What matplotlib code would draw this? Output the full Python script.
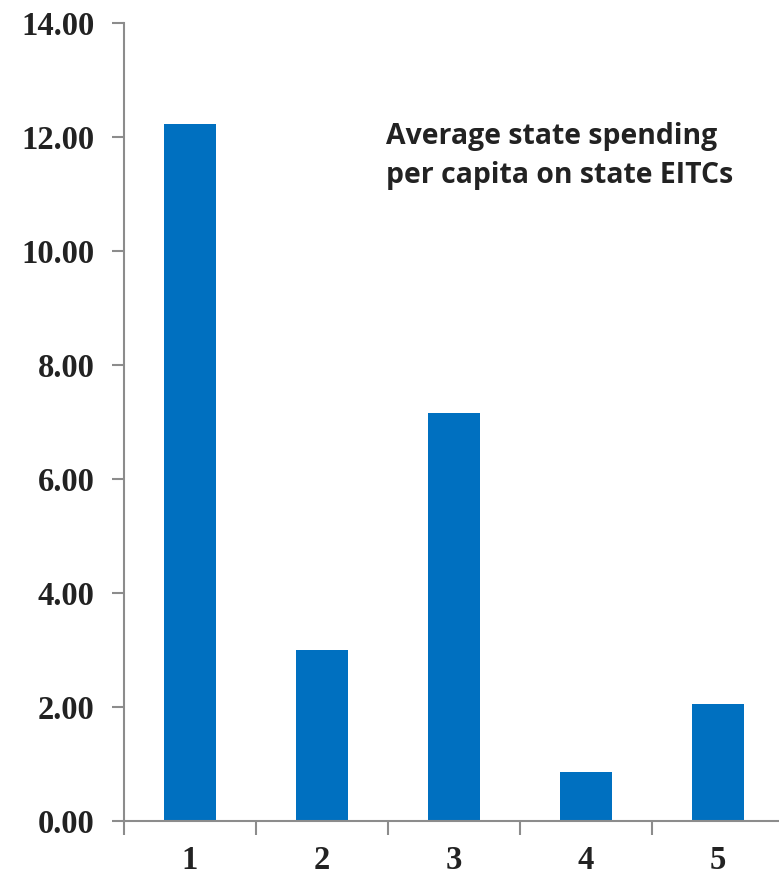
import matplotlib
matplotlib.use("Agg")
import matplotlib.pyplot as plt

categories = ["1", "2", "3", "4", "5"]
values = [12.22, 3.00, 7.15, 0.86, 2.05]
yticks = [0, 2, 4, 6, 8, 10, 12, 14]
ytick_labels = ["0.00", "2.00", "4.00", "6.00", "8.00", "10.00", "12.00", "14.00"]
annotation = "Average state spending\nper capita on state EITCs"

fig = plt.figure(figsize=(7.79, 8.81), dpi=100)
W, H = 779, 881
left, right = 124 / W, 784 / W
bottom, top = (H - 821) / H, (H - 23) / H
ax = fig.add_axes([left, bottom, right - left, top - bottom])

x = list(range(1, len(categories) + 1))
ax.bar(x, values, width=0.4, color="#0070C0", zorder=2)

ax.set_xlim(0.5, 5.5)
ax.set_ylim(0, 14)
ax.set_yticks(yticks)
ax.set_yticklabels(ytick_labels)
ax.set_xticks([0.5, 1.5, 2.5, 3.5, 4.5, 5.5])
ax.set_xticklabels([])
ax.set_xticks(x, minor=True)
ax.set_xticklabels(categories, minor=True)

serif = {"family": ["Liberation Serif", "DejaVu Serif"], "weight": "bold", "size": 23.5}
for lab in ax.get_yticklabels():
    lab.set(**serif)
    lab.set_color("#222222")
for lab in ax.get_xticklabels(minor=True):
    lab.set(**serif)
    lab.set_color("#222222")

for s in ["top", "right"]:
    ax.spines[s].set_visible(False)
for s in ["left", "bottom"]:
    ax.spines[s].set_color("#8c8c8c")
    ax.spines[s].set_linewidth(1.5)

ax.tick_params(axis="y", which="major", direction="out", length=9, width=1.5,
               color="#8c8c8c", pad=12)
ax.tick_params(axis="x", which="major", direction="out", length=10, width=1.5,
               color="#8c8c8c")
ax.tick_params(axis="x", which="minor", length=0, pad=17)

ax.text(386 / W, (H - 156) / H, annotation, transform=fig.transFigure,
        fontsize=20.4, fontweight="bold", family=["Open Sans", "DejaVu Sans"],
        color="#222222", va="center", ha="left", linespacing=1.42)

fig.savefig("out.png", dpi=100)
